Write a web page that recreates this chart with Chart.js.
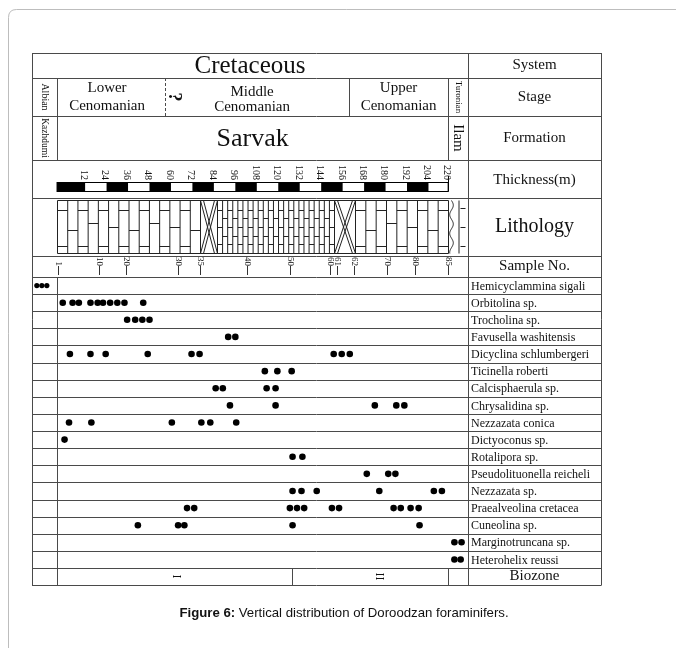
<!DOCTYPE html>
<html>
<head>
<meta charset="utf-8">
<script src="https://cdn.jsdelivr.net/npm/chart.js@4.4.0/dist/chart.umd.min.js"></script>
<style>
  html, body { margin: 0; padding: 0; background: #fff; }
  canvas { display: block; }
</style>
</head>
<body>
<canvas id="chart" width="676" height="648"></canvas>
<script>
// species rows, top to bottom
const species = [
  "Hemicyclammina sigali", "Orbitolina sp.", "Trocholina sp.", "Favusella washitensis",
  "Dicyclina schlumbergeri", "Ticinella roberti", "Calcisphaerula sp.", "Chrysalidina sp.",
  "Nezzazata conica", "Dictyoconus sp.", "Rotalipora sp.", "Pseudolituonella reicheli",
  "Nezzazata sp.", "Praealveolina cretacea", "Cuneolina sp.", "Marginotruncana sp.",
  "Heterohelix reussi"
];

// occurrences, position in the section (m above Sarvak base)
const hemicyclammina = [-15, -12.2, -9.4];
const orbitolina = [-0.5, 5, 8.5, 15, 19, 22, 26, 30, 34, 44.5];
const trocholina = [35.5, 40, 44, 48];
const favusella = [92, 96];
const dicyclina = [3.5, 15, 23.5, 47, 71.5, 76, 151, 155.5, 160];
const ticinella = [112.5, 119.5, 127.5];
const calcisphaerula = [85, 89, 113.5, 118.5];
const chrysalidina = [93, 118.5, 174, 186, 190.5];
const nezzazataConica = [3, 15.5, 60.5, 77, 82, 96.5];
const dictyoconus = [0.5];
const rotalipora = [128, 133.5];
const pseudolituonella = [169.5, 181.5, 185.5];
const nezzazataSp = [128, 133, 141.5, 176.5, 207, 211.5];
const praealveolina = [69, 73, 126.5, 130.5, 134.5, 150, 154, 184.5, 188.5, 194, 198.5];
const cuneolina = [41.5, 64, 67.5, 128, 199];
const marginotruncana = [218.5, 222.5];
const heterohelix = [218.5, 222];

const occurrences = [
  hemicyclammina, orbitolina, trocholina, favusella, dicyclina, ticinella, calcisphaerula,
  chrysalidina, nezzazataConica, dictyoconus, rotalipora, pseudolituonella, nezzazataSp,
  praealveolina, cuneolina, marginotruncana, heterohelix
];

// stratigraphy (m)
const sectionMin = -17.7, sectionMax = 226.1;
const stageNames = ["Albian", "Lower|Cenomanian", "Middle|Cenomanian", "Upper|Cenomanian", "Turonian"];
const stageBase = [-17.7, -3.7, 56.7, 159.6, 215];
const formationNames = ["Kazhdumi", "Sarvak", "Ilam"];
const formationBase = [-17.7, -3.7, 215];
const thicknessTicks = [12, 24, 36, 48, 60, 72, 84, 96, 108, 120, 132, 144, 156, 168, 180, 192, 204, 220];
const sampleNos = [1, 10, 20, 30, 35, 40, 50, 60, 61, 62, 70, 80, 85];
const samplePos = [-3, 20, 35, 64, 76.5, 102.5, 126.5, 149, 153, 162.5, 181, 196.5, 215];
const lithoType = ["limestone", "marl", "dense", "marl", "limestone", "shale"];
const lithoFrom = [-3.7, 76, 85.5, 151, 163, 215];
const lithoTo = [76, 85.5, 151, 163, 215, 226.1];
const biozoneNames = ["I", "II"];
const biozoneBase = [-3.7, 127.5, 215];

const serif = '"Liberation Serif", "Times New Roman", serif';
const sans = '"Liberation Sans", Arial, sans-serif';

function vtext(ctx, txt, x, y, font, align) {
  ctx.save();
  ctx.translate(x, y);
  ctx.rotate(Math.PI / 2);
  ctx.font = font;
  ctx.textAlign = align || "center";
  ctx.textBaseline = "middle";
  ctx.fillText(txt, 0, 0);
  ctx.restore();
}

function drawLitho(ctx, type, xa, xb, yt, yb) {
  const h = yb - yt;
  ctx.beginPath();
  if (type === "limestone" || type === "dense") {
    const w = type === "limestone" ? 10.3 : 5.2;
    const n = Math.max(1, Math.round((xb - xa) / w));
    const cw = (xb - xa) / n;
    for (let i = 0; i <= n; i++) {
      ctx.moveTo(xa + i * cw, yt);
      ctx.lineTo(xa + i * cw, yb);
    }
    for (let i = 0; i < n; i++) {
      let fr;
      if (type === "limestone") fr = i % 2 === 0 ? [0.18, 0.85] : [[0.42, 0.56, 0.5][i % 3]];
      else fr = i % 2 === 0 ? [0.17, 0.5, 0.83] : [0.33, 0.67];
      fr.forEach(f => {
        ctx.moveTo(xa + i * cw, Math.round(yt + f * h) + 0.5);
        ctx.lineTo(xa + (i + 1) * cw, Math.round(yt + f * h) + 0.5);
      });
    }
    ctx.moveTo(xa, yt); ctx.lineTo(xb, yt);
    ctx.moveTo(xa, yb); ctx.lineTo(xb, yb);
  } else if (type === "marl") {
    ctx.moveTo(xa, yt); ctx.lineTo(xa, yb);
    ctx.moveTo(xb, yt); ctx.lineTo(xb, yb);
    for (const d of [0, 3]) {
      ctx.moveTo(xa + d, yt); ctx.lineTo(xb - 3 + d, yb);
      ctx.moveTo(xb - 3 + d, yt); ctx.lineTo(xa + d, yb);
    }
    ctx.moveTo(xa, yt); ctx.lineTo(xb, yt);
    ctx.moveTo(xa, yb); ctx.lineTo(xb, yb);
  } else if (type === "shale") {
    const xw = xa + 3;
    ctx.moveTo(xw, yt);
    for (let y = yt; y <= yb; y += 1) ctx.lineTo(xw + 1.8 * Math.sin((y - yt) / 3), y);
    ctx.moveTo(xa + 10.5, yt); ctx.lineTo(xa + 10.5, yb);
    [0.15, 0.5, 0.85].forEach(f => {
      const y = Math.round(yt + f * h) + 0.5;
      ctx.moveTo(xa + 12, y); ctx.lineTo(xa + 17, y);
    });
  }
  ctx.stroke();
}

const tablePlugin = {
  id: "tablePlugin",
  beforeDraw(chart) {
    const ctx = chart.ctx;
    ctx.save();
    ctx.fillStyle = "#fff";
    ctx.fillRect(0, 0, chart.width, chart.height);
    ctx.strokeStyle = "#bdbdbd";
    ctx.lineWidth = 1;
    ctx.beginPath();
    ctx.moveTo(8.5, 660);
    ctx.lineTo(8.5, 17.5);
    ctx.quadraticCurveTo(8.5, 9.5, 16.5, 9.5);
    ctx.lineTo(690, 9.5);
    ctx.stroke();

    // caption
    ctx.fillStyle = "#111";
    ctx.textBaseline = "middle";
    const b = "Figure 6:", r = " Vertical distribution of Doroodzan foraminifers.";
    ctx.font = "bold 13.2px " + sans;
    const wb = ctx.measureText(b).width;
    ctx.font = "13.2px " + sans;
    const wr = ctx.measureText(r).width;
    const cx = 344 - (wb + wr) / 2;
    ctx.font = "bold 13.2px " + sans;
    ctx.textAlign = "left";
    ctx.fillText(b, cx, 613);
    ctx.font = "13.2px " + sans;
    ctx.fillText(r, cx + wb, 613);
    ctx.restore();
  },
  beforeDatasetsDraw(chart) {
    const ctx = chart.ctx;
    const a = chart.chartArea;
    const X = v => chart.scales.x.getPixelForValue(v);
    const p = v => Math.round(v) + 0.5;
    const L = a.left, LC = a.right, R = 601;
    const rowH = (a.bottom - a.top) / species.length;
    const yTop = 53, yStage = 78, yForm = 116, yThick = 160, yLith = 198, ySamp = 256;
    const ySpec = a.top, yBio = a.bottom, yEnd = a.bottom + rowH;
    const secBase = X(stageBase[1]);
    const secTop = X(stageBase[4]);

    ctx.save();
    ctx.strokeStyle = "#4a4a4a";
    ctx.lineWidth = 1;
    const hl = (x1, x2, y) => { ctx.beginPath(); ctx.moveTo(x1, p(y)); ctx.lineTo(x2, p(y)); ctx.stroke(); };
    const vl = (x, y1, y2) => { ctx.beginPath(); ctx.moveTo(p(x), y1); ctx.lineTo(p(x), y2); ctx.stroke(); };

    // grid
    [yTop, yStage, yForm, yThick, yLith, ySamp].forEach(y => hl(L, R, y));
    for (let i = 0; i <= species.length; i++) hl(L, R, ySpec + i * rowH);
    hl(L, R, yEnd);
    vl(L, yTop, yEnd + 0.5);
    vl(R, yTop, yEnd + 0.5);
    vl(LC, yTop, yEnd);
    vl(secBase, yStage, yThick);
    vl(secBase, ySpec, yEnd);
    vl(X(stageBase[3]), yStage, yForm);
    vl(secTop, yStage, yThick);
    vl(X(biozoneBase[1]), yBio, yEnd);
    vl(X(biozoneBase[2]), yBio, yEnd);
    ctx.save();
    ctx.setLineDash([3, 2]);
    vl(X(stageBase[2]), yStage, yForm);
    ctx.restore();

    ctx.fillStyle = "#111";
    ctx.textAlign = "center";
    ctx.textBaseline = "middle";
    const rc = (LC + R) / 2;

    // right column titles
    ctx.font = "15px " + serif;
    ctx.fillText("System", rc, (yTop + yStage) / 2);
    ctx.fillText("Stage", rc, (yStage + yForm) / 2);
    ctx.fillText("Formation", rc, (yForm + yThick) / 2);
    ctx.fillText("Thickness(m)", rc, (yThick + yLith) / 2 + 1);
    ctx.fillText("Sample No.", rc, (ySamp + ySpec) / 2);
    ctx.fillText("Biozone", rc, (yBio + yEnd) / 2);
    ctx.font = "20px " + serif;
    ctx.fillText("Lithology", rc, (yLith + ySamp) / 2);

    // system
    ctx.font = "25px " + serif;
    ctx.fillText("Cretaceous", (L + LC) / 2, (yTop + yStage) / 2 + 1);

    // stages
    const stageX = [];
    for (let i = 0; i < stageNames.length; i++) {
      const x1 = i === 0 ? L : X(stageBase[i]);
      const x2 = i === stageNames.length - 1 ? LC : X(stageBase[i + 1]);
      stageX.push([x1, x2]);
    }
    vtext(ctx, stageNames[0], (stageX[0][0] + stageX[0][1]) / 2, (yStage + yForm) / 2, "10px " + serif);
    vtext(ctx, stageNames[4], (stageX[4][0] + stageX[4][1]) / 2, (yStage + yForm) / 2, "9px " + serif);
    ctx.font = "15px " + serif;
    const stageShift = [0, -4, -5, 0];
    const stageLines = [0, [88, 106], [92, 107], [88, 106]];
    for (let i = 1; i <= 3; i++) {
      const [l1, l2] = stageNames[i].split("|");
      const cx = (stageX[i][0] + stageX[i][1]) / 2 + stageShift[i];
      ctx.fillText(l1, cx, stageLines[i][0]);
      ctx.fillText(l2, cx, stageLines[i][1]);
    }
    vtext(ctx, "?", X(stageBase[2]) + 9, 97, "bold 18px " + serif);

    // formations
    const fx1 = X(formationBase[1]), fx2 = X(formationBase[2]);
    vtext(ctx, formationNames[0], (L + fx1) / 2, (yForm + yThick) / 2, "9.5px " + serif);
    ctx.font = "26px " + serif;
    ctx.fillText(formationNames[1], (fx1 + fx2) / 2, (yForm + yThick) / 2 + 1);
    vtext(ctx, formationNames[2], (fx2 + LC) / 2, (yForm + yThick) / 2, "15px " + serif);

    // thickness bar
    const barTop = 182.5, barH = 9;
    const bounds = [secBase].concat(thicknessTicks.map(v => Math.min(X(v), secTop)));
    for (let i = 0; i < bounds.length - 1; i++) {
      if (i % 2 === 0) {
        ctx.fillStyle = "#000";
        ctx.fillRect(bounds[i], barTop, bounds[i + 1] - bounds[i], barH);
      }
    }
    ctx.strokeStyle = "#000";
    ctx.strokeRect(secBase, barTop, secTop - secBase, barH);
    vl(secTop, 176, barTop + barH);
    ctx.fillStyle = "#111";
    thicknessTicks.forEach((v, i) => {
      vtext(ctx, String(v), bounds[i + 1] - 1.5, 180, "10px " + serif, "right");
    });

    // lithology
    ctx.strokeStyle = "#222";
    for (let i = 0; i < lithoType.length; i++) {
      drawLitho(ctx, lithoType[i], p(X(lithoFrom[i])), p(X(lithoTo[i])), 200.5, 253.5);
    }

    // samples
    ctx.strokeStyle = "#333";
    sampleNos.forEach((s, i) => {
      const x = X(samplePos[i]);
      vtext(ctx, String(s), x, 266, "9px " + serif, "right");
      vl(x, 266, 275);
    });

    // species labels
    ctx.fillStyle = "#111";
    ctx.font = "12px " + serif;
    ctx.textAlign = "left";
    species.forEach((s, i) => ctx.fillText(s, LC + 3, ySpec + (i + 0.5) * rowH + 1));

    // biozones
    const bzShift = [2, 9];
    for (let i = 0; i < biozoneNames.length; i++) {
      const cx = (X(biozoneBase[i]) + X(biozoneBase[i + 1])) / 2 + bzShift[i];
      vtext(ctx, biozoneNames[i], cx, (yBio + yEnd) / 2, "12px " + serif);
    }
    ctx.restore();
  }
};

const datasets = occurrences.map((xs, row) => ({
  label: species[row],
  data: xs.map(x => ({ x: x, y: row })),
  pointRadius: row === 0 ? 2.6 : 3.3,
  pointBackgroundColor: "#000",
  pointBorderWidth: 0,
  showLine: false
}));

new Chart(document.getElementById("chart"), {
  type: "scatter",
  data: { datasets: datasets },
  options: {
    responsive: false,
    animation: false,
    events: [],
    layout: { padding: { left: 32, right: 676 - 468, top: 277, bottom: 648 - 568 } },
    plugins: { legend: { display: false }, tooltip: { enabled: false } },
    scales: {
      x: { type: "linear", min: sectionMin, max: sectionMax, display: false },
      y: { type: "linear", min: -0.5, max: species.length - 0.5, reverse: true, display: false }
    }
  },
  plugins: [tablePlugin]
});
</script>
</body>
</html>
